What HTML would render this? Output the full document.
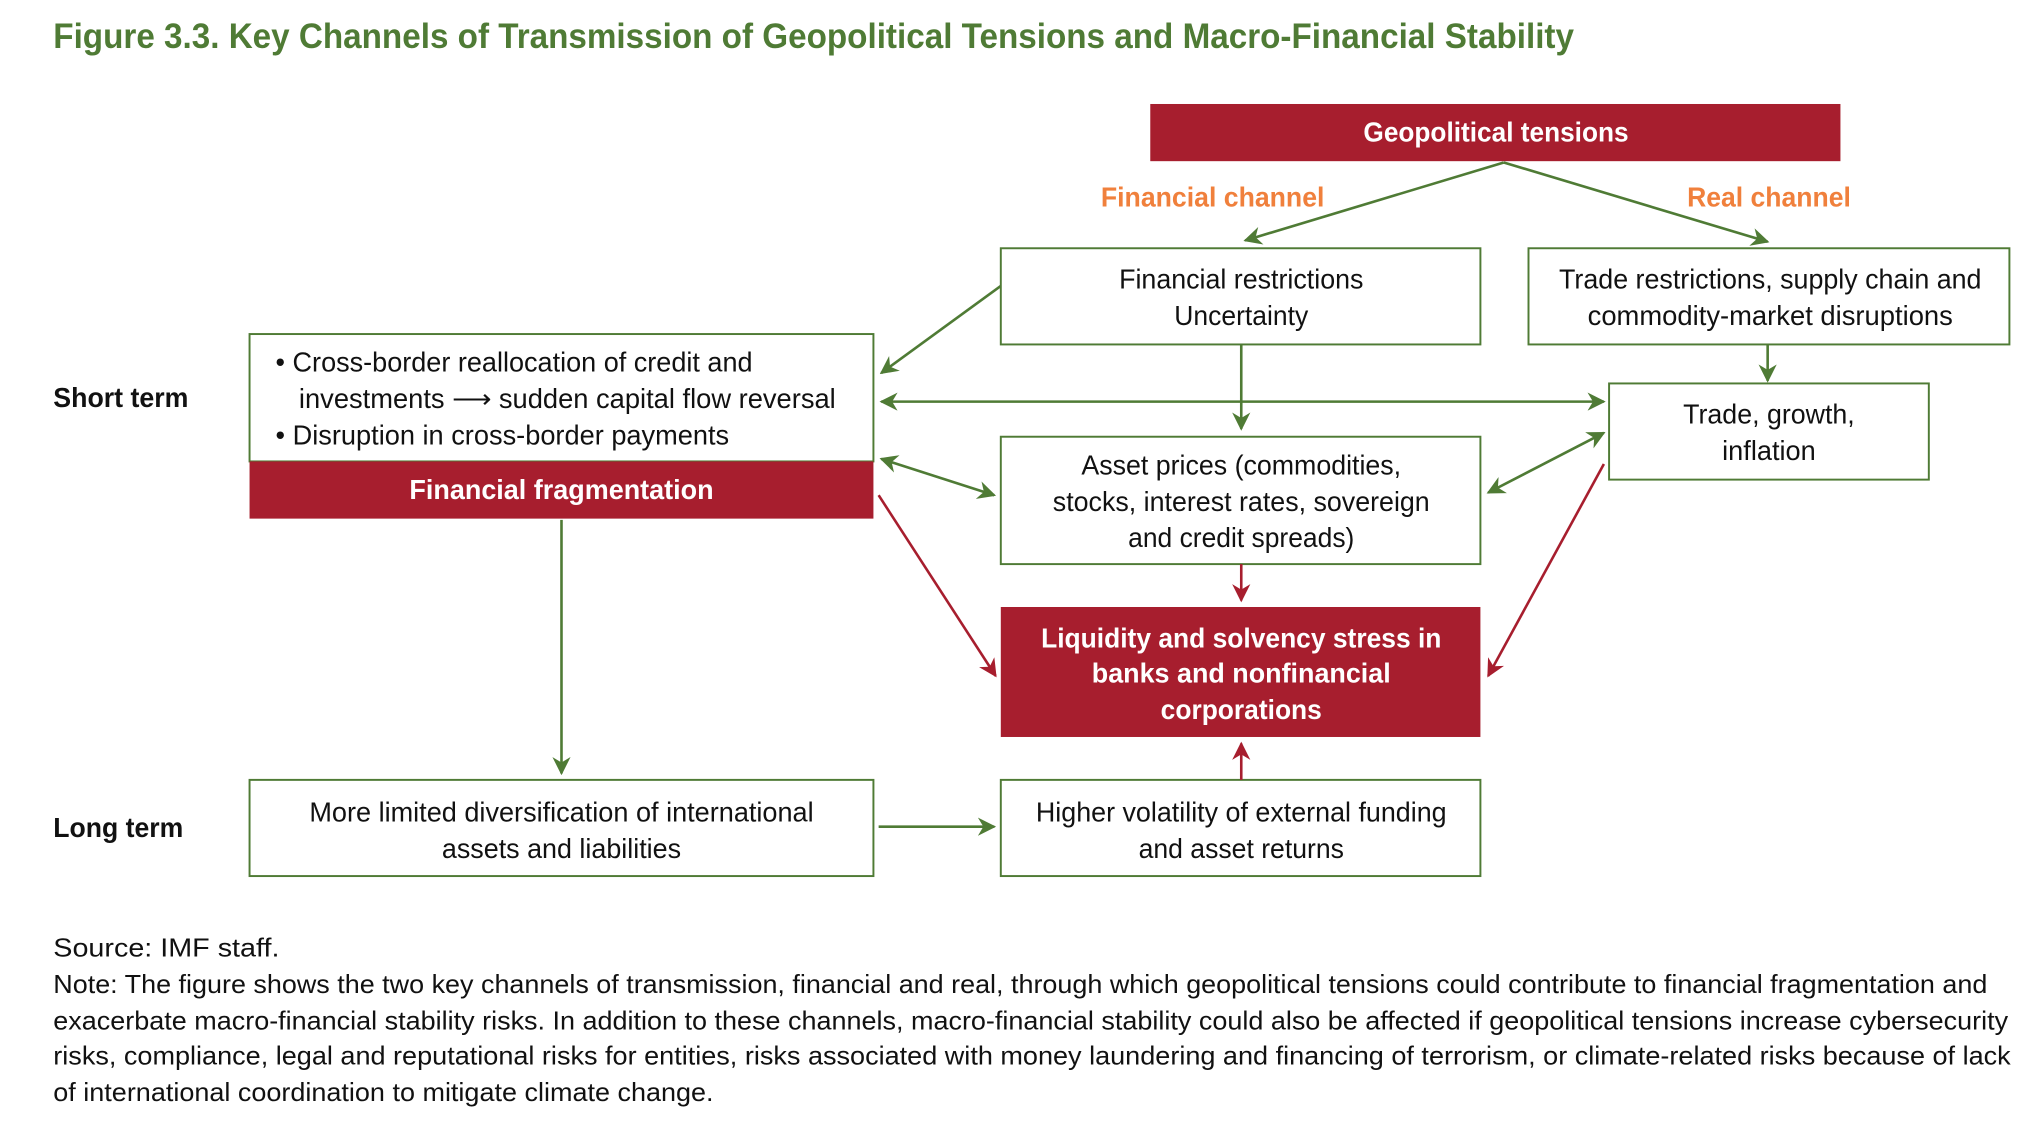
<!DOCTYPE html>
<html><head><meta charset="utf-8"><style>
html,body{margin:0;padding:0;background:#fff}
svg{display:block}
text{font-family:"Liberation Sans Narrow","Liberation Sans",sans-serif}
</style></head><body>
<svg width="2038" height="1129" viewBox="0 0 1568 868.6" preserveAspectRatio="none" xmlns="http://www.w3.org/2000/svg">
<defs>
<marker id="ag" viewBox="0 0 10 10" refX="9" refY="5" markerWidth="7" markerHeight="7" orient="auto-start-reverse"><path d="M0,0 L10,5 L0,10 L3,5 z" fill="#4F7B35"/></marker>
<marker id="ar" viewBox="0 0 10 10" refX="9" refY="5" markerWidth="7" markerHeight="7" orient="auto-start-reverse"><path d="M0,0 L10,5 L0,10 L3,5 z" fill="#A71E2E"/></marker>
</defs>
<text x="41" y="37" font-size="27" font-weight="bold" fill="#4F7B35" textLength="1170" lengthAdjust="spacingAndGlyphs">Figure 3.3. Key Channels of Transmission of Geopolitical Tensions and Macro-Financial Stability</text>

<g>
<rect x="885" y="80" width="531" height="44" fill="#A71E2E"/>
<text x="1151" y="109" font-size="21" font-weight="bold" fill="#fff" text-anchor="middle" textLength="204" lengthAdjust="spacingAndGlyphs">Geopolitical tensions</text>
</g>
<text x="933" y="159" font-size="21" font-weight="bold" fill="#F0803C" text-anchor="middle" textLength="172" lengthAdjust="spacingAndGlyphs">Financial channel</text>
<text x="1361" y="159" font-size="21" font-weight="bold" fill="#F0803C" text-anchor="middle" textLength="126" lengthAdjust="spacingAndGlyphs">Real channel</text>

<g fill="#fff" stroke="#4F7B35" stroke-width="1.5">
<rect x="770" y="191" width="369" height="74"/>
<rect x="1176" y="191" width="370" height="74"/>
<rect x="192" y="257" width="480" height="98"/>
<rect x="1238" y="295" width="246" height="74"/>
<rect x="770" y="336" width="369" height="98"/>
<rect x="192" y="600" width="480" height="74"/>
<rect x="770" y="600" width="369" height="74"/>
</g>
<rect x="192" y="355" width="480" height="44" fill="#A71E2E"/>
<rect x="770" y="467" width="369" height="100" fill="#A71E2E"/>

<g font-size="21" fill="#111" text-anchor="middle">
<text x="955" y="222" textLength="188" lengthAdjust="spacingAndGlyphs">Financial restrictions</text>
<text x="955" y="250" textLength="103" lengthAdjust="spacingAndGlyphs">Uncertainty</text>
<text x="1362" y="222" textLength="325" lengthAdjust="spacingAndGlyphs">Trade restrictions, supply chain and</text>
<text x="1362" y="250" textLength="281" lengthAdjust="spacingAndGlyphs">commodity-market disruptions</text>
<text x="1361" y="326" textLength="132" lengthAdjust="spacingAndGlyphs">Trade, growth,</text>
<text x="1361" y="354" textLength="72" lengthAdjust="spacingAndGlyphs">inflation</text>
<text x="955" y="365" textLength="246" lengthAdjust="spacingAndGlyphs">Asset prices (commodities,</text>
<text x="955" y="393" textLength="290" lengthAdjust="spacingAndGlyphs">stocks, interest rates, sovereign</text>
<text x="955" y="421" textLength="174" lengthAdjust="spacingAndGlyphs">and credit spreads)</text>
<text x="432" y="632" textLength="388" lengthAdjust="spacingAndGlyphs">More limited diversification of international</text>
<text x="432" y="660" textLength="184" lengthAdjust="spacingAndGlyphs">assets and liabilities</text>
<text x="955" y="632" textLength="316" lengthAdjust="spacingAndGlyphs">Higher volatility of external funding</text>
<text x="955" y="660" textLength="158" lengthAdjust="spacingAndGlyphs">and asset returns</text>
</g>
<g font-size="21" fill="#111">
<text x="212" y="286" textLength="367" lengthAdjust="spacingAndGlyphs">• Cross-border reallocation of credit and</text>
<text x="230" y="314" textLength="413" lengthAdjust="spacingAndGlyphs">investments ⟶ sudden capital flow reversal</text>
<text x="212" y="342" textLength="349" lengthAdjust="spacingAndGlyphs">• Disruption in cross-border payments</text>
</g>
<g font-size="21" font-weight="bold" fill="#fff" text-anchor="middle">
<text x="432" y="384" textLength="234" lengthAdjust="spacingAndGlyphs">Financial fragmentation</text>
<text x="955" y="498" textLength="308" lengthAdjust="spacingAndGlyphs">Liquidity and solvency stress in</text>
<text x="955" y="525" textLength="230" lengthAdjust="spacingAndGlyphs">banks and nonfinancial</text>
<text x="955" y="553" textLength="124" lengthAdjust="spacingAndGlyphs">corporations</text>
</g>
<text x="41" y="313" font-size="21" font-weight="bold" fill="#111" textLength="104" lengthAdjust="spacingAndGlyphs">Short term</text>
<text x="41" y="644" font-size="21" font-weight="bold" fill="#111" textLength="100" lengthAdjust="spacingAndGlyphs">Long term</text>

<g stroke="#4F7B35" stroke-width="2" fill="none">
<line x1="1157" y1="125" x2="958" y2="185" marker-end="url(#ag)"/>
<line x1="1157" y1="125" x2="1360" y2="186" marker-end="url(#ag)"/>
<line x1="770" y1="220" x2="678" y2="287" marker-end="url(#ag)"/>
<line x1="955" y1="265" x2="955" y2="330" marker-end="url(#ag)"/>
<line x1="678" y1="309" x2="1234" y2="309" marker-start="url(#ag)" marker-end="url(#ag)"/>
<line x1="678" y1="353" x2="765" y2="381" marker-start="url(#ag)" marker-end="url(#ag)"/>
<line x1="1145" y1="379" x2="1234" y2="333" marker-start="url(#ag)" marker-end="url(#ag)"/>
<line x1="1360" y1="265" x2="1360" y2="293" marker-end="url(#ag)"/>
<line x1="432" y1="400" x2="432" y2="595" marker-end="url(#ag)"/>
<line x1="676" y1="636" x2="765" y2="636" marker-end="url(#ag)"/>
</g>
<g stroke="#A71E2E" stroke-width="2" fill="none">
<line x1="676" y1="381" x2="766" y2="520" marker-end="url(#ar)"/>
<line x1="955" y1="434" x2="955" y2="462" marker-end="url(#ar)"/>
<line x1="1234" y1="357" x2="1145" y2="520" marker-end="url(#ar)"/>
<line x1="955" y1="600" x2="955" y2="572" marker-end="url(#ar)"/>
</g>

<g font-size="20" fill="#111">
<text x="41" y="736" textLength="174" lengthAdjust="spacingAndGlyphs">Source: IMF staff.</text>
<text x="41" y="764" textLength="1488" lengthAdjust="spacingAndGlyphs">Note: The figure shows the two key channels of transmission, financial and real, through which geopolitical tensions could contribute to financial fragmentation and</text>
<text x="41" y="792" textLength="1504" lengthAdjust="spacingAndGlyphs">exacerbate macro-financial stability risks. In addition to these channels, macro-financial stability could also be affected if geopolitical tensions increase cybersecurity</text>
<text x="41" y="819" textLength="1506" lengthAdjust="spacingAndGlyphs">risks, compliance, legal and reputational risks for entities, risks associated with money laundering and financing of terrorism, or climate-related risks because of lack</text>
<text x="41" y="847" textLength="508" lengthAdjust="spacingAndGlyphs">of international coordination to mitigate climate change.</text>
</g>
</svg>
</body></html>
